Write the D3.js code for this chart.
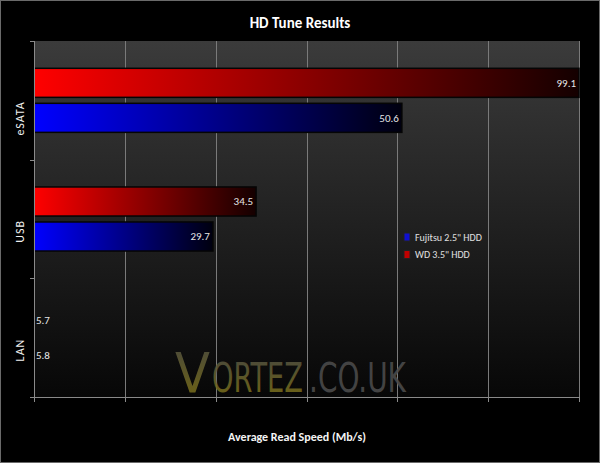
<!DOCTYPE html>
<html><head><meta charset="utf-8">
<script src="https://cdn.jsdelivr.net/npm/d3@7"></script>
<style>
html,body{margin:0;padding:0;background:#000;}
svg{display:block;}
</style></head>
<body>
<svg id="chart" width="600" height="463"></svg>
<script>
// ---- data ----
const categories = ["eSATA", "USB", "LAN"];
const seriesNames = ["WD 3.5\" HDD", "Fujitsu 2.5\" HDD"];
// bar lengths as drawn on the (unlabelled) axis
const wdBarValues = [120, 48.9, 0];
const fujitsuBarValues = [81.0, 39.4, 0];
// data labels printed on the bars
const wdLabels = ["99.1", "34.5", "5.7"];
const fujitsuLabels = ["50.6", "29.7", "5.8"];
const xTicks = [0, 20, 40, 60, 80, 100, 120];
const legendOrder = ["Fujitsu 2.5\" HDD", "WD 3.5\" HDD"];

const font = "Carlito, 'Liberation Sans Narrow', Lato, 'Open Sans', sans-serif";
const svg = d3.select("#chart");
const W = 600, H = 463;
const m = {left: 34, right: 21, top: 41, bottom: 66};
const pw = W - m.left - m.right, ph = H - m.top - m.bottom;

const defs = svg.append("defs");
const bg = defs.append("linearGradient").attr("id","bg").attr("x1",0).attr("y1",0).attr("x2",0).attr("y2",1);
bg.append("stop").attr("offset","0%").attr("stop-color","#3b3b3b");
bg.append("stop").attr("offset","100%").attr("stop-color","#070707");
function hGrad(id, c0, c1){
  const g = defs.append("linearGradient").attr("id",id).attr("x1",0).attr("y1",0).attr("x2",1).attr("y2",0);
  g.append("stop").attr("offset","0%").attr("stop-color",c0);
  g.append("stop").attr("offset","100%").attr("stop-color",c1);
}
hGrad("gRed", "#ff0000", "#140000");
hGrad("gBlue", "#0000ff", "#00000f");
const wm = defs.append("linearGradient").attr("id","wm").attr("x1",0).attr("y1",0).attr("x2",0).attr("y2",1);
wm.append("stop").attr("offset","0%").attr("stop-color","#4e4e44");
wm.append("stop").attr("offset","100%").attr("stop-color","#7d7012");

svg.append("rect").attr("width",W).attr("height",H).attr("fill","#000");
svg.append("rect").attr("x",0.5).attr("y",0.5).attr("width",W-1).attr("height",H-1)
  .attr("fill","none").attr("stroke","#6a6a6a");

const x = d3.scaleLinear().domain([0,120]).range([m.left, m.left+pw]);
const y = d3.scaleBand().domain(categories).range([m.top, m.top+ph]);
const ys = d3.scaleBand().domain(seriesNames).range([0, y.bandwidth()]).paddingInner(0.17).paddingOuter(0.78);

// plot background
svg.append("rect").attr("x",m.left).attr("y",m.top).attr("width",pw).attr("height",ph).attr("fill","url(#bg)");

// gridlines
svg.append("g").selectAll("line").data(xTicks.slice(1)).join("line")
  .attr("x1",d=>Math.round(x(d))+0.5).attr("x2",d=>Math.round(x(d))+0.5)
  .attr("y1",m.top).attr("y2",m.top+ph).attr("stroke","#7a7a7a").attr("stroke-width",1);

// watermark: each piece squeezed horizontally to its width in the picture
const wmParts = [
  {t:"V", x:175, w:35, size:56, fill:"url(#wm)"},
  {t:"ORTEZ", x:212, w:91, size:41, fill:"url(#wm)"},
  {t:".CO.UK", x:309, w:97, size:41, fill:"#4a4a4a"}
];
wmParts.forEach(p=>{
  const g = svg.append("g").attr("opacity",0.9);
  const t = g.append("text").attr("x",0).attr("y",0).attr("font-family","'DejaVu Sans', sans-serif")
    .attr("font-size",p.size).attr("fill",p.fill).text(p.t);
  const len = t.node().getComputedTextLength() || p.w;
  g.attr("transform",`translate(${p.x},392) scale(${p.w/len},1)`);
});

// bars
const rows = [];
categories.forEach((c,i)=>{
  rows.push({cat:c, s:seriesNames[0], v:wdBarValues[i], label:wdLabels[i], fill:"url(#gRed)"});
  rows.push({cat:c, s:seriesNames[1], v:fujitsuBarValues[i], label:fujitsuLabels[i], fill:"url(#gBlue)"});
});
const barG = svg.append("g");
barG.selectAll("rect").data(rows.filter(d=>d.v>0)).join("rect")
  .attr("x",x(0)).attr("y",d=>y(d.cat)+ys(d.s))
  .attr("width",d=>x(d.v)-x(0)).attr("height",ys.bandwidth())
  .attr("fill",d=>d.fill).attr("stroke","#050505").attr("stroke-width",1.5);

// value labels
barG.selectAll("text").data(rows).join("text")
  .attr("x",d=> d.v>0 ? x(d.v)-3 : x(0)+2)
  .attr("text-anchor",d=> d.v>0 ? "end" : "start")
  .attr("y",d=>y(d.cat)+ys(d.s)+ys.bandwidth()/2)
  .attr("dy","0.35em").attr("fill","#e6e6e6").attr("font-family",font).attr("font-size",11)
  .text(d=>d.label);

// axes
const axG = svg.append("g").attr("stroke","#8a8a8a").attr("stroke-width",1);
axG.append("line").attr("x1",m.left+0.5).attr("x2",m.left+0.5).attr("y1",m.top).attr("y2",m.top+ph);
axG.append("line").attr("x1",m.left-4).attr("x2",m.left+pw).attr("y1",m.top+ph+0.5).attr("y2",m.top+ph+0.5);
const yTickPos = categories.map(c=>y(c)).concat([m.top+ph]);
axG.selectAll(".yt").data(yTickPos).join("line").attr("class","yt")
  .attr("x1",m.left-4).attr("x2",m.left).attr("y1",d=>Math.round(d)+0.5).attr("y2",d=>Math.round(d)+0.5);
axG.selectAll(".xt").data(xTicks).join("line").attr("class","xt")
  .attr("x1",d=>Math.round(x(d))+0.5).attr("x2",d=>Math.round(x(d))+0.5)
  .attr("y1",m.top+ph).attr("y2",m.top+ph+5);

// category labels (rotated, ending at the band centre)
svg.append("g").selectAll("text").data(categories).join("text")
  .attr("transform",d=>`translate(24,${y(d)+y.bandwidth()/2+1}) rotate(-90)`)
  .attr("text-anchor","end").attr("fill","#f0f0f0").attr("font-family",font)
  .attr("font-size",12).attr("letter-spacing",1).text(d=>d);

// title
svg.append("text").attr("x",300).attr("y",28).attr("text-anchor","middle")
  .attr("fill","#fff").attr("font-family",font).attr("font-weight","bold").attr("font-size",15)
  .text("HD Tune Results");
svg.append("text").attr("x",297).attr("y",441).attr("text-anchor","middle")
  .attr("fill","#f4f4f4").attr("font-family",font).attr("font-weight","bold").attr("font-size",12)
  .text("Average Read Speed (Mb/s)");

// legend
const lg = svg.append("g").attr("transform","translate(404,233)");
const legColor = {"Fujitsu 2.5\" HDD":"#1010d0", "WD 3.5\" HDD":"#c00000"};
legendOrder.forEach((n,i)=>{
  const g = lg.append("g").attr("transform",`translate(0,${i*17.5})`);
  g.append("rect").attr("width",6).attr("height",8).attr("fill",legColor[n]).attr("stroke","#222");
  g.append("text").attr("x",11).attr("y",4).attr("dy","0.35em").attr("fill","#e0e0e0")
    .attr("font-family",font).attr("font-size",10).text(n);
});
</script>
</body></html>
